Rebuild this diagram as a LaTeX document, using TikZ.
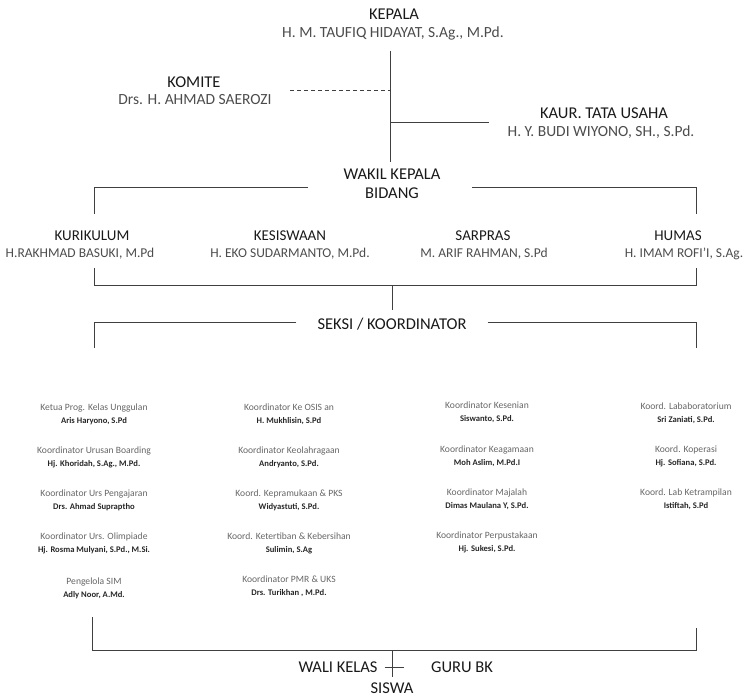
\documentclass[tikz,border=0pt]{standalone}
\usepackage{fontspec}
\setmainfont{Carlito}
\usetikzlibrary{positioning}
\newcommand{\koordnamafont}{\bfseries\fontsize{8.6}{13}\selectfont\color{black!85}}

\begin{document}
\begin{tikzpicture}[
    x=1pt, y=-1pt,
    jabatan/.style={inner sep=1pt, text=black!90, font=\fontsize{16.5}{18}\selectfont},
    pejabat/.style={inner sep=1pt, text=black!70, font=\fontsize{15.5}{17}\selectfont},
    bidangjudul/.style={jabatan, font=\fontsize{15}{17}\selectfont},
    bidangnama/.style={pejabat, font=\fontsize{13.5}{15}\selectfont},
    koord/.style={inner sep=1pt, align=center, text=black!60, font=\fontsize{9.6}{13}\selectfont},
    garis/.style={draw=black!75, line width=0.8pt},
    garisputus/.style={garis, dash pattern=on 4pt off 3pt}
]
\useasboundingbox (0,0) rectangle (752,697);

% pimpinan
\node [jabatan] (kepala) at (394,14) {KEPALA};
\node [pejabat] (kepalanama) at (393,33) {H. M. TAUFIQ HIDAYAT, S.Ag., M.Pd.};
\node [jabatan] (komite) at (194,82) {KOMITE};
\node [pejabat] (komitenama) at (195,100) {Drs. H. AHMAD SAEROZI};
\node [jabatan] (kaur) at (604,113) {KAUR. TATA USAHA};
\node [pejabat] (kaurnama) at (601,132) {H. Y. BUDI WIYONO, SH., S.Pd.};
\node [jabatan] (wakil) at (392,174) {WAKIL KEPALA};
\node [jabatan] (bidang) at (392,193) {BIDANG};

\coordinate (batang) at (390,51);
\coordinate (komitetitik) at (290,90);
\coordinate (kaurtitik) at (489,122);
\draw [garis] (batang) -- ([yshift=6pt]wakil.north -| batang);
\draw [garisputus] (komitetitik) -- (komitetitik -| batang);
\draw [garis] (kaurtitik -| batang) -- (kaurtitik);

% bidang
\foreach \id/\xj/\xn/\judul/\nama in {
    kur/92/80/KURIKULUM/{H.RAKHMAD BASUKI, M.Pd},
    kes/290/290/KESISWAAN/{H. EKO SUDARMANTO, M.Pd.},
    sar/483/484/SARPRAS/{M. ARIF RAHMAN, S.Pd},
    hum/678/684/HUMAS/{H. IMAM ROFI'I, S.Ag.}} {
    \node [bidangjudul] (\id) at (\xj,236) {\judul};
    \node [bidangnama] (\id-nama) at (\xn,254) {\nama};
}

\coordinate (atas1) at (308,187);
\coordinate (atas2) at (472,187);
\coordinate (kiri1) at (94,214);
\coordinate (kanan1) at (696,214);
\draw [garis] (atas1) -| (kiri1);
\draw [garis] (atas2) -| (kanan1);

\coordinate (kiri2) at (94,268);
\coordinate (kanan2) at (696,268);
\coordinate (tengah2) at (392,285);
\draw [garis] (kiri2) |- (tengah2 -| kanan2) -- (kanan2);

% seksi / koordinator
\node [jabatan] (seksi) at (392,324) {SEKSI / KOORDINATOR};
\draw [garis] (tengah2) -- ([yshift=7pt]seksi.north);
\coordinate (kiri3) at (94,348);
\coordinate (kanan3) at (696,348);
\draw [garis] ([xshift=-20pt,yshift=2pt]seksi.west) -| (kiri3);
\draw [garis] ([xshift=20pt,yshift=2pt]seksi.east) -| (kanan3);

\foreach \y/\tugas/\nama [count=\i] in {
    408/{Ketua Prog. Kelas Unggulan}/{Aris Haryono, S.Pd},
    451/{Koordinator Urusan Boarding}/{Hj. Khoridah, S.Ag., M.Pd.},
    494/{Koordinator Urs Pengajaran}/{Drs. Ahmad Supraptho},
    537/{Koordinator Urs. Olimpiade}/{Hj. Rosma Mulyani, S.Pd., M.Si.},
    582/{Pengelola SIM}/{Adly Noor, A.Md.}}
    \node [koord] (satu-\i) at (94,\y+6) {\tugas\\{\koordnamafont\nama}};

\foreach \y/\tugas/\nama [count=\i] in {
    408/{Koordinator Ke OSIS an}/{H. Mukhlisin, S.Pd},
    451/{Koordinator Keolahragaan}/{Andryanto, S.Pd.},
    494/{Koord. Kepramukaan \& PKS}/{Widyastuti, S.Pd.},
    537/{Koord. Ketertiban \& Kebersihan}/{Sulimin, S.Ag},
    580/{Koordinator PMR \& UKS}/{Drs. Turikhan , M.Pd.}}
    \node [koord] (dua-\i) at (289,\y+6) {\tugas\\{\koordnamafont\nama}};

\foreach \y/\tugas/\nama [count=\i] in {
    406/{Koordinator Kesenian}/{Siswanto, S.Pd.},
    450/{Koordinator Keagamaan}/{Moh Aslim, M.Pd.I},
    493/{Koordinator Majalah}/{Dimas Maulana Y, S.Pd.},
    536/{Koordinator Perpustakaan}/{Hj. Sukesi, S.Pd.}}
    \node [koord] (tiga-\i) at (487,\y+6) {\tugas\\{\koordnamafont\nama}};

\foreach \y/\tugas/\nama [count=\i] in {
    407/{Koord. Lababoratorium}/{Sri Zaniati, S.Pd.},
    450/{Koord. Koperasi}/{Hj. Sofiana, S.Pd.},
    493/{Koord. Lab Ketrampilan}/{Istiftah, S.Pd}}
    \node [koord] (empat-\i) at (686,\y+6) {\tugas\\{\koordnamafont\nama}};

% wali kelas, guru bk, siswa
\coordinate (kiri4) at (92,617);
\coordinate (kanan4) at (696,628);
\coordinate (tengah4) at (392,650);
\draw [garis] (kiri4) |- (tengah4 -| kanan4) -- (kanan4);

\node [jabatan] (walikelas) at (338,667) {WALI KELAS};
\node [jabatan] (gurubk) at (462,667) {GURU BK};
\node [jabatan] (siswa) at (392,688) {SISWA};
\draw [garis] (tengah4) -- ([yshift=4pt]siswa.north);
\draw [garis] ([xshift=6pt]walikelas.east) -- ([xshift=-26pt]gurubk.west);
\end{tikzpicture}
\end{document}
